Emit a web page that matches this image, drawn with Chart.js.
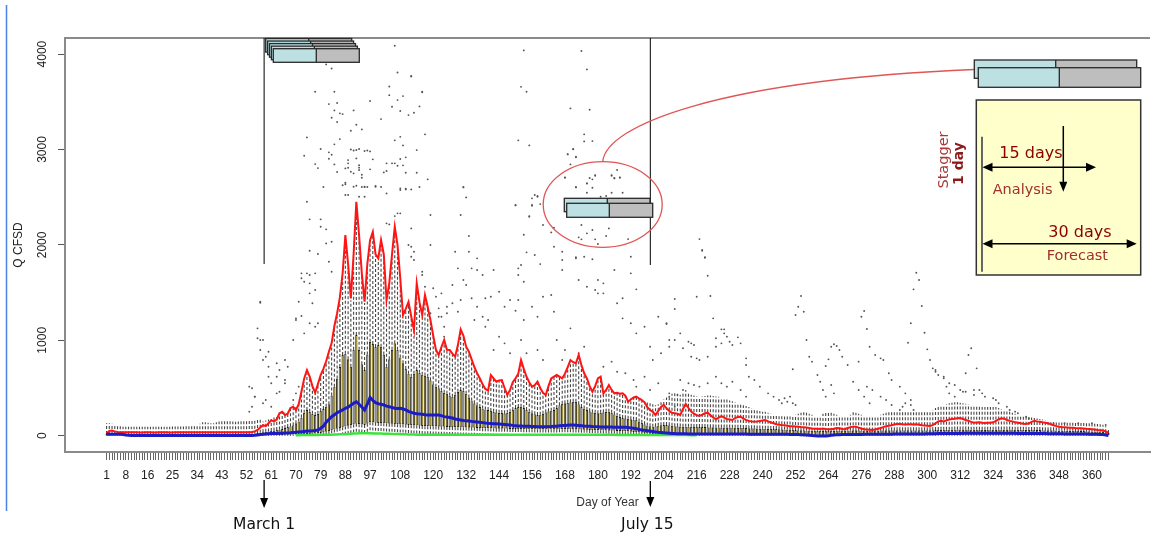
<!DOCTYPE html>
<html>
<head>
<meta charset="utf-8">
<title>Daily flow distribution by day of year</title>
<script src="https://cdn.jsdelivr.net/npm/chart.js@4.4.1/dist/chart.umd.min.js"></script>
<style>
  html, body { margin: 0; padding: 0; background: #fff; }
  #wrap { width: 1154px; height: 536px; position: relative; }
</style>
</head>
<body>
<div id="wrap"><canvas id="chart"></canvas></div>
<script>
// ---- data, one value per day of year (1..366), Q in CFSD ----
const days = Array.from({ length: 366 }, (_, i) => i + 1);

const xLabelDays = [1, 8, 16, 25, 34, 43, 52, 61, 70, 79, 88, 97, 108, 120, 132, 144, 156, 168, 180,
  192, 204, 216, 228, 240, 252, 264, 276, 288, 300, 312, 324, 336, 348, 360];
const yTicks = [0, 1000, 2000, 3000, 4000];

// red line (upper percentile)
const p90 = [
  20,50,55,45,38,36,35,35,35,35,
  35,35,34,34,35,35,35,34,34,35,
  35,35,35,34,34,35,35,35,35,35,
  35,35,35,35,36,36,36,35,35,35,
  36,36,36,36,36,36,36,36,36,36,
  36,36,36,38,45,60,85,110,100,130,
  160,150,170,235,250,217,230,290,304,269,
  330,461,600,688,620,520,451,540,636,700,
  780,880,971,1150,1284,1450,1700,2103,1800,1440,
  1900,2452,2100,1700,1404,1800,2050,2138,1900,1859,
  2051,1900,1422,1600,1900,2190,2000,1650,1265,1330,
  1404,1250,1108,1597,1400,1265,1475,1350,1212,1050,
  900,846,930,1003,900,898,860,828,950,1115,
  1050,933,880,800,720,654,600,540,490,472,
  636,600,566,580,584,500,427,480,560,601,
  650,793,700,618,560,514,530,566,500,450,
  427,520,601,620,636,620,601,650,720,793,
  770,759,846,740,654,600,520,461,520,600,
  618,444,480,531,480,444,450,440,444,420,
  356,380,400,409,390,374,350,300,269,250,
  217,260,300,322,287,260,240,235,230,217,
  280,332,290,252,230,215,206,220,235,241,
  215,190,172,190,206,190,175,170,165,185,
  195,199,180,165,155,150,147,150,155,160,
  165,150,140,130,120,115,112,110,105,100,
  98,96,94,90,88,85,80,76,73,72,
  70,75,70,67,68,72,80,78,70,68,
  80,90,94,94,85,75,68,64,62,60,
  65,72,80,90,100,105,110,118,122,123,
  120,118,119,120,118,119,115,110,108,105,
  102,110,130,150,157,150,160,170,175,178,
  182,185,175,165,155,145,136,138,140,136,
  134,135,136,140,155,170,182,178,165,155,
  150,140,136,130,125,123,130,145,157,150,
  145,140,136,130,120,110,100,94,90,88,
  86,84,82,80,79,78,75,72,70,68,
  65,60,58,55,45,31
];

// box top (75th percentile)
const q3 = [
  17,18,18,17,15,14,14,14,14,14,
  14,14,14,14,14,14,14,14,14,14,
  14,14,14,14,14,14,14,14,14,14,
  14,14,14,14,15,15,15,15,15,15,
  15,15,15,15,15,15,15,15,15,16,
  16,16,17,18,20,28,30,35,40,45,
  50,55,60,65,70,80,90,100,110,130,
  150,190,240,269,250,230,217,230,260,280,
  304,330,420,514,600,720,846,860,800,723,
  900,1055,900,750,688,850,985,960,930,950,
  933,850,723,800,900,968,900,820,759,700,
  650,618,650,688,660,640,630,618,580,540,
  514,497,470,450,440,420,409,430,460,479,
  470,440,400,370,340,320,300,285,275,269,
  260,250,245,240,238,235,240,250,270,290,
  300,304,290,270,250,235,225,217,220,230,
  245,255,262,269,290,320,335,340,345,350,
  355,356,330,300,285,269,255,245,240,235,
  240,245,250,252,240,225,210,195,185,182,
  178,172,168,165,150,135,120,108,100,94,
  100,105,110,112,112,110,105,100,98,96,
  95,95,94,93,92,92,91,90,90,89,
  88,88,87,87,86,86,85,85,84,84,
  83,82,81,80,79,78,77,76,75,74,
  73,72,71,70,69,68,67,66,65,64,
  60,59,58,57,56,55,54,53,52,52,
  51,50,50,50,51,52,53,54,54,54,
  55,55,56,56,56,55,55,54,54,54,
  55,55,56,56,57,57,57,58,58,58,
  58,58,58,58,58,58,58,58,58,58,
  58,58,59,60,61,62,62,63,63,64,
  64,65,65,64,64,63,63,62,62,62,
  62,62,63,63,64,64,65,65,64,64,
  63,63,62,62,61,61,60,60,60,59,
  59,58,58,57,56,56,55,54,54,53,
  52,52,51,50,50,49,48,47,46,45,
  44,43,42,40,36,28
];

// blue line (median)
const median = [
  15,16,16,15,14,14,13,8,4,3,
  3,3,3,3,3,3,3,3,3,3,
  3,3,3,3,3,3,3,3,3,3,
  3,3,3,3,3,3,3,3,3,3,
  3,3,3,3,3,3,3,3,3,3,
  3,3,3,3,4,8,12,15,18,20,
  22,23,24,25,26,27,28,30,33,36,
  40,42,45,48,50,52,55,60,78,100,
  140,170,199,220,240,255,270,287,300,320,
  340,356,330,300,269,330,400,370,346,335,
  330,322,310,304,295,287,285,287,280,270,
  255,245,235,230,228,225,220,217,217,217,
  217,217,210,200,195,190,185,175,170,165,
  160,157,154,150,147,144,140,137,133,130,
  128,126,124,122,120,118,115,112,108,105,
  102,102,100,99,98,97,96,95,94,94,
  94,95,96,98,100,103,106,108,110,112,
  112,110,108,105,102,100,98,96,95,94,
  92,92,91,90,90,89,89,88,88,88,
  85,82,78,72,66,60,56,52,48,44,
  40,36,33,30,28,26,24,22,21,20,
  20,20,19,19,19,18,18,18,18,18,
  18,18,18,18,18,18,17,17,17,17,
  17,17,17,17,16,16,16,16,16,16,
  16,15,15,15,15,14,14,14,14,13,
  13,12,12,11,10,8,5,2,0,-2,
  -2,-1,-2,0,4,8,10,11,12,12,
  12,13,13,13,13,13,14,14,14,14,
  14,15,15,15,16,16,16,17,17,17,
  18,18,18,18,19,19,19,19,19,20,
  20,21,21,22,22,22,23,23,23,24,
  24,24,25,25,25,25,25,25,25,25,
  25,25,25,25,25,25,25,25,25,25,
  25,25,24,24,24,24,23,23,23,23,
  22,22,22,21,21,21,20,20,20,19,
  19,19,18,18,18,17,17,17,16,16,
  15,14,13,12,8,2
];

// box bottom (25th percentile)
const q1 = [
  2,2,2,2,2,2,2,2,2,2,
  2,2,2,2,2,2,2,2,2,2,
  2,2,2,2,2,2,2,2,2,2,
  2,2,2,2,2,2,2,2,2,2,
  2,2,2,2,2,2,2,2,2,2,
  2,2,2,2,2,3,4,5,5,6,
  6,7,7,8,8,9,10,11,12,13,
  14,15,16,18,19,20,22,24,28,34,
  40,48,56,64,72,80,88,96,104,110,
  118,124,120,116,112,125,140,138,135,133,
  132,130,128,126,124,122,120,118,116,114,
  112,110,108,106,104,102,100,99,98,97,
  96,95,94,93,92,91,90,89,88,87,
  86,85,84,83,82,81,80,79,78,77,
  76,75,74,74,73,72,72,71,70,70,
  69,69,68,68,67,67,66,66,65,65,
  64,64,64,65,66,67,68,68,68,67,
  66,65,64,63,62,61,60,59,58,57,
  56,55,54,53,52,51,50,49,48,47,
  45,42,39,36,33,30,27,24,21,18,
  16,15,14,13,12,12,11,11,10,10,
  10,10,10,10,10,10,9,9,9,9,
  9,9,9,9,9,9,9,9,9,9,
  8,8,8,8,8,8,8,8,8,8,
  8,8,8,8,8,7,7,7,7,7,
  7,6,5,4,3,2,1,0,-2,-4,
  -4,-3,-3,-1,1,3,5,6,7,7,
  7,7,7,7,7,7,8,8,8,8,
  8,8,8,8,9,9,9,9,9,9,
  9,9,9,9,9,9,9,9,9,10,
  10,10,10,10,10,10,11,11,11,11,
  11,11,11,11,11,11,11,11,11,11,
  11,11,11,11,11,11,11,11,11,11,
  11,11,11,11,11,10,10,10,10,10,
  10,10,10,10,10,10,9,9,9,9,
  9,9,9,8,8,8,8,8,7,7,
  7,6,6,5,3,0
];

// upper whisker end
const whiskHi = [
  130,130,125,120,110,100,95,95,95,95,
  95,95,94,94,94,95,95,95,95,95,
  95,95,95,95,96,96,96,96,96,100,
  100,105,105,110,125,140,140,135,130,130,
  140,150,160,165,165,160,150,145,150,155,
  160,165,170,170,175,165,180,150,160,170,
  175,190,210,240,260,240,250,300,330,300,
  340,470,560,650,600,520,460,540,620,690,
  760,860,950,1120,1250,1400,1650,2050,1760,1420,
  1850,2400,2060,1680,1390,1760,2000,2100,1880,1830,
  2000,1870,1400,1580,1860,2140,1960,1620,1250,1310,
  1380,1230,1100,1560,1380,1250,1450,1330,1200,1040,
  890,840,920,990,890,890,850,820,940,1100,
  1040,920,870,790,710,650,600,540,490,470,
  630,600,566,580,580,500,430,480,560,600,
  650,790,700,618,560,514,530,566,500,450,
  427,520,600,620,636,620,601,650,720,790,
  770,759,846,740,654,600,520,461,520,600,
  618,444,480,531,480,444,450,440,444,420,
  370,390,400,410,400,390,380,360,350,330,
  320,330,360,380,400,420,440,445,440,430,
  460,480,450,430,420,410,405,410,415,420,
  420,415,410,409,400,390,380,370,360,350,
  340,330,320,310,300,290,280,270,260,250,
  250,240,230,220,215,210,205,200,200,200,
  210,220,230,240,250,240,230,220,210,200,
  210,230,260,250,240,230,220,210,200,200,
  210,220,250,240,230,220,210,200,200,200,
  200,210,220,230,240,245,250,250,250,250,
  255,260,260,255,250,250,250,250,250,250,
  250,270,290,300,310,320,330,340,345,350,
  350,345,340,335,330,325,320,315,310,300,
  300,300,300,300,300,290,280,270,260,250,
  240,230,220,210,200,200,195,190,185,180,
  175,170,165,160,155,150,150,145,145,140,
  140,140,140,138,136,134,132,130,130,128,
  125,122,120,115,100,60
];

// lower whisker end (minimum); shown as the green line from day 70 to 216
const lowW = [
  0,0,0,0,0,0,0,0,0,0,
  0,0,0,0,0,0,0,0,0,0,
  0,0,0,0,0,0,0,0,0,0,
  0,0,0,0,0,0,0,0,0,0,
  0,0,0,0,0,0,0,0,0,0,
  0,0,0,0,0,0,0,0,0,0,
  0,0,0,0,0,0,0,0,0,5,
  5,6,6,7,7,8,8,8,9,9,
  10,10,11,12,13,14,15,16,18,20,
  22,24,25,26,26,25,25,24,24,23,
  22,21,20,20,19,18,17,16,15,14,
  13,12,12,11,11,10,10,10,10,10,
  10,10,10,10,10,10,10,10,10,10,
  10,10,10,9,9,9,9,9,9,9,
  9,9,9,9,9,9,9,9,9,9,
  9,9,9,9,9,9,9,9,9,9,
  9,9,9,9,10,10,10,10,10,10,
  10,10,10,10,10,10,9,9,9,9,
  9,9,9,9,9,9,8,8,8,8,
  8,8,8,8,8,8,8,7,7,7,
  7,7,7,7,7,7,6,6,6,6,
  6,6,6,5,5,5,0,0,0,0,
  0,0,0,0,0,0,0,0,0,0,
  0,0,0,0,0,0,0,0,0,0,
  0,0,0,0,0,0,0,0,0,0,
  0,0,-3,-5,-8,-8,-8,-8,-8,-8,
  -8,-8,-8,-6,-3,0,0,0,0,0,
  0,0,0,0,0,0,0,0,0,0,
  0,0,0,0,0,0,0,0,0,0,
  0,0,0,0,0,0,0,0,0,0,
  0,0,0,0,0,0,0,0,0,0,
  0,0,0,0,0,0,0,0,0,0,
  0,0,0,0,0,0,0,0,0,0,
  0,0,0,0,0,0,0,0,0,0,
  0,0,0,0,0,0,0,0,0,0,
  0,0,0,0,0,0,0,0,0,0,
  0,0,0,0,0,0
];
const greenFrom = 70, greenTo = 216;

// outlying years: [day, Q]
const outliers = [
  [106,4087],[81,3892],[83,3850],[107,3808],[112,3766],[77,3605],[84,3605],[104,3660],[104,3570],[109,3560],
  [116,3599],[97,3508],[107,3518],[82,3476],[85,3487],[115,3452],[105,3448],[84,3410],[91,3410],[86,3379],
  [87,3371],[108,3403],[113,3385],[111,3361],[83,3333],[101,3319],[85,3288],[92,3259],[90,3196],[94,3211],
  [74,3127],[86,3109],[106,3096],[108,3133],[117,3159],[109,3043],[84,3054],[79,3005],[82,2970],[83,2945],
  [90,3000],[91,2990],[92,2995],[93,3005],[95,2985],[96,2990],[97,2980],[114,2994],[73,2935],[82,2903],
  [89,2889],[89,2855],[92,2907],[98,2897],[108,2900],[110,2918],[77,2847],[78,2805],[84,2844],[88,2802],
  [89,2809],[90,2767],[91,2750],[93,2835],[93,2810],[93,2785],[94,2735],[94,2704],[97,2792],[103,2855],
  [105,2855],[106,2855],[107,2830],[109,2834],[103,2774],[102,2760],[110,2756],[114,2756],[118,2687],[85,2764],
  [80,2607],[87,2625],[88,2652],[92,2620],[94,2607],[95,2607],[96,2607],[99,2617],[101,2607],[108,2575],
  [110,2589],[115,2607],[131,2607],
  [153,4039],[174,4032],[176,3840],[152,3657],[154,3605],[170,3431],[177,3417],[175,3159],[178,3088],[151,3096],
  [155,3043],[171,3005],[169,2949],[172,2918],[170,2844],[168,2708],[177,2701],[179,2725],[176,2645],[178,2599],
  [172,2607],[185,2725],[186,2701],[188,2708],[187,2785],
  [88,2636],[91,2610],[95,2610],[99,2610],[88,2523],[89,2523],[93,2505],[95,2505],[103,2540],[108,2593],
  [110,2582],[112,2582],[106,2302],[107,2331],[108,2331],[103,2226],[104,2215],[112,2173],[111,1999],[112,1981],
  [113,1928],[119,2313],[119,1999],[113,1841],[112,1876],[116,1719],[116,1684],[120,1545],[121,1457],[122,1335],
  [119,1283],[123,1247],[117,1562],[74,2452],[75,2268],[79,2190],[81,2163],[83,2033],[79,2268],[75,1939],
  [78,1904],[81,2016],[82,1824],[83,1719],[72,1650],[72,1702],[73,1614],[75,1492],[76,1388],[77,1527],
  [72,1254],[75,1178],[77,1142],[78,1178],[73,1073],[70,1212],[57,1404],[56,1125],[58,1003],[60,880],
  [63,759],[56,1021],[66,793],[67,723],[66,584],[64,461],[61,549],[63,444],[60,618],[69,374],
  [70,444],[71,514],[53,514],[55,409],[54,304],
  [131,2603],[132,2498],[130,2313],[150,2418],[156,2418],[157,2523],[158,2512],[155,2302],[133,2093],[128,1928],
  [133,1928],[136,1859],[129,1754],[134,1754],[136,1737],[138,1684],[131,1632],[132,1579],[127,1579],[142,1737],
  [144,1509],[141,1457],[139,1440],[136,1352],[134,1440],[146,1352],[148,1422],[151,1422],[151,1684],[153,1614],
  [150,1310],[153,1212],[156,1352],[158,1247],[160,1457],[163,1475],[164,1300],[152,1789],[151,1754],[167,1841],
  [167,1737],[172,1859],[175,1876],[173,1632],[176,1562],[179,1527],[180,1632],[182,1597],[180,1492],[182,1492],
  [186,1737],[189,1440],[187,1388],[194,1534],[192,1702],[189,1230],[192,1178],[194,1073],[197,1142],[202,1247],
  [205,1171],[208,1003],[199,933],[200,793],[203,864],[170,1125],[173,864],[175,933],[165,1003],[168,898],
  [167,793],[152,1003],[154,864],[158,898],[160,793],[144,1038],[146,968],[148,864],[142,898],[135,1212],
  [138,1247],[140,1212],[139,1142],[122,1247],[124,1142],[124,1038],[125,1283],[127,1388],[130,1422],[129,1300],
  [123,1492],[125,1352],[182,723],[185,776],[187,671],[190,654],[193,584],[197,618],[194,514],[199,479],
  [202,549],[206,409],[208,304],
  [175,3085],[169,2952],[171,3002],[172,2924],[168,2704],[172,2603],[176,2645],[179,2732],[178,2687],[185,2732],
  [186,2697],[188,2704],[176,2547],[181,2505],[183,2512],[185,2547],[189,2547],[156,2488],[158,2505],[159,2428],
  [150,2414],[156,2410],[155,2295],[160,2208],[164,2180],[163,2131],[174,2208],[176,2121],[178,2156],[179,2058],
  [183,2093],[184,2173],[173,2079],[174,2058],[180,2009],[191,2061],[153,2107],[154,1922],[157,1894],[159,1799],
  [217,2061],[218,1946],[219,1870],[164,1981],[167,1928],[172,1870],[178,1849],[192,1876],[112,3770],[116,3605],
  [218,1939],[219,1865],[220,1677],[221,1464],[216,1457],[208,1433],[208,1328],[205,1178],[210,1073],[222,1230],
  [225,1115],[226,1115],[226,1073],[227,1038],[231,1031],[232,968],[229,951],[228,985],[223,1021],[225,968],
  [223,933],[213,985],[214,968],[215,951],[211,916],[214,828],[216,811],[217,793],[220,828],[206,1003],
  [206,933],[210,584],[213,549],[215,531],[217,514],[220,549],[206,444],[209,427],[211,479],[223,618],
  [225,549],[227,514],[229,566],[232,479],[234,409],[234,741],[234,811],[235,618],[237,584],[239,514],
  [242,444],[244,409],[246,374],[249,356],[251,340],[252,322],[247,340],[248,392],[250,409],[251,696],
  [252,1265],[253,1352],[254,1464],[255,1300],[256,1003],[257,828],[258,776],[260,636],[261,566],[263,730],
  [264,800],[265,933],[266,958],[267,940],[268,898],[269,828],[271,741],[273,566],[275,479],[277,409],
  [279,340],[265,531],[266,444],[263,409],[262,479],[275,776],[276,1247],[277,1307],[278,1118],[279,933],
  [281,846],[283,811],[284,793],[286,654],[287,584],[290,514],[292,444],[294,374],[278,514],[280,479],
  [283,409],[285,374],[287,322],[290,269],[293,975],[294,1178],[295,1534],[296,1708],[297,1632],[298,1359],
  [299,1079],[300,905],[301,793],[303,688],[291,304],[292,340],[294,322],[295,269],[302,706],[303,671],
  [304,636],[306,601],[308,549],[310,531],[312,479],[314,461],[317,427],[306,618],[307,514],[308,444],
  [310,409],[314,654],[315,846],[316,916],[318,706],[319,479],[321,409],[325,374],[329,304],[332,252],
  [336,199],[313,461],[317,479],[320,444],[324,392],[326,340],[330,269],[333,235],[337,182],[341,147],
  [346,130],[350,130],[355,130],[360,130],[365,112],
  [57,1394],[57,1003],[57,898],[58,793],[59,828],[60,723],[54,497],[55,409],[58,340],[59,374],
  [61,304],[53,252],[63,618],[64,688],[66,549],[69,1003],[70,1230],[71,1404],[74,1702],[75,1684],
  [77,1702],[75,1597]
];

// where the two season markers sit on the day axis
const marchLineDay = 58.4, julyLineDay = 199.1;

const SANS = '"Liberation Sans", Arial, sans-serif';
const VERD = '"DejaVu Sans", Verdana, sans-serif';
Chart.defaults.font.family = SANS;

const pts = arr => days.map((d, i) => ({ x: d, y: arr[i] }));

// dashed whiskers, drawn under the boxes like R's boxplot
const whiskers = {
  id: 'whiskers',
  beforeDatasetsDraw(chart) {
    const { ctx, chartArea: ca, scales: { x, y } } = chart;
    ctx.save();
    ctx.beginPath();
    ctx.rect(ca.left, ca.top, ca.width, ca.height);
    ctx.clip();
    ctx.strokeStyle = 'rgba(50,50,50,0.9)';
    ctx.lineWidth = 1.1;
    ctx.setLineDash([3, 2]);
    days.forEach((d, i) => {
      const px = x.getPixelForValue(d);
      ctx.beginPath();
      ctx.moveTo(px, y.getPixelForValue(q3[i]));
      ctx.lineTo(px, y.getPixelForValue(whiskHi[i]));
      ctx.moveTo(px, y.getPixelForValue(q1[i]));
      ctx.lineTo(px, y.getPixelForValue(lowW[i]));
      ctx.stroke();
    });
    ctx.restore();
  }
};

function twinBox(ctx, x, y, w, h, split) {
  ctx.fillStyle = '#bde0e3';
  ctx.fillRect(x, y, split - x, h);
  ctx.fillStyle = '#bebebe';
  ctx.fillRect(split, y, x + w - split, h);
  ctx.strokeStyle = '#2a2a2a';
  ctx.lineWidth = 1.3;
  ctx.strokeRect(x, y, w, h);
  ctx.beginPath();
  ctx.moveTo(split, y);
  ctx.lineTo(split, y + h);
  ctx.stroke();
}

function head(ctx, x, y, dx, dy, len, half) {
  ctx.beginPath();
  ctx.moveTo(x, y);
  ctx.lineTo(x - dx * len - dy * half, y - dy * len + dx * half);
  ctx.lineTo(x - dx * len + dy * half, y - dy * len - dx * half);
  ctx.closePath();
  ctx.fill();
}

function seg(ctx, x1, y1, x2, y2) {
  ctx.beginPath();
  ctx.moveTo(x1, y1);
  ctx.lineTo(x2, y2);
  ctx.stroke();
}

function label(ctx, text, x, y, font, color, align, rot) {
  ctx.save();
  ctx.translate(x, y);
  if (rot) ctx.rotate(rot);
  ctx.font = font;
  ctx.fillStyle = color;
  ctx.textAlign = align || 'center';
  ctx.textBaseline = 'middle';
  ctx.fillText(text, 0, 0);
  ctx.restore();
}

// the sketch of the analysis / forecast windows
const notes = {
  id: 'notes',
  afterDraw(chart) {
    const { ctx, chartArea: ca, scales: { x } } = chart;
    ctx.save();

    // top edge of the plot frame
    ctx.strokeStyle = '#8a8a8a';
    ctx.lineWidth = 2;
    seg(ctx, ca.left - 1, ca.top, ca.right, ca.top);

    // blue rule at the far left
    ctx.strokeStyle = '#4d7fe8';
    ctx.lineWidth = 1.5;
    seg(ctx, 6.5, 5, 6.5, 511);

    // season markers
    const m1 = x.getPixelForValue(marchLineDay);
    const j15 = x.getPixelForValue(julyLineDay);
    ctx.strokeStyle = '#000';
    ctx.fillStyle = '#000';
    ctx.lineWidth = 1;
    seg(ctx, m1, ca.top, m1, 264);
    seg(ctx, j15, ca.top, j15, 265);
    ctx.lineWidth = 1.3;
    seg(ctx, m1, 480, m1, 500);
    head(ctx, m1, 508, 0, 1, 10, 4);
    seg(ctx, j15, 481, j15, 499);
    head(ctx, j15, 507, 0, 1, 10, 4);
    label(ctx, 'March 1', m1, 525, '15.5px ' + VERD, '#111');
    label(ctx, 'July 15', j15 - 3, 525, '15.5px ' + VERD, '#111');

    // stacked windows at the start of the season
    for (let i = 0; i < 5; i++) {
      const bx = 265.7 + 1.9 * i, by = 38.5 + 2.55 * i;
      twinBox(ctx, bx, by, 86, 13.6, bx + 43);
    }

    // callout
    ctx.strokeStyle = '#e05555';
    ctx.lineWidth = 1.3;
    ctx.beginPath();
    ctx.ellipse(602.7, 204.5, 59.5, 42.8, 0, 0, Math.PI * 2);
    ctx.stroke();
    ctx.beginPath();
    ctx.moveTo(602.7, 161.7);
    ctx.bezierCurveTo(606, 125, 720, 80, 974.3, 69.5);
    ctx.stroke();

    twinBox(ctx, 564.3, 198.3, 85.7, 13.4, 607.3);
    twinBox(ctx, 566.7, 203.3, 86, 14, 609.3);
    twinBox(ctx, 974.3, 60, 162.4, 18.3, 1055.7);
    twinBox(ctx, 978.3, 67.7, 162.4, 19.6, 1059.3);

    // explanation panel
    ctx.fillStyle = '#ffffcc';
    ctx.fillRect(976.3, 100, 164.4, 175);
    ctx.strokeStyle = '#333';
    ctx.lineWidth = 1.5;
    ctx.strokeRect(976.3, 100, 164.4, 175);
    ctx.strokeStyle = '#666';
    ctx.lineWidth = 2;
    seg(ctx, 982, 136.7, 982, 271.7);

    ctx.strokeStyle = '#000';
    ctx.fillStyle = '#000';
    ctx.lineWidth = 1.5;
    seg(ctx, 990, 167.3, 1088, 167.3);
    head(ctx, 982.5, 167.3, -1, 0, 10, 4.5);
    head(ctx, 1096, 167.3, 1, 0, 10, 4.5);
    seg(ctx, 1063.3, 126, 1063.3, 183);
    head(ctx, 1063.3, 191.7, 0, 1, 10, 4);
    seg(ctx, 990, 243.7, 1128, 243.7);
    head(ctx, 982.5, 243.7, -1, 0, 10, 4.5);
    head(ctx, 1136.7, 243.7, 1, 0, 10, 4.5);

    label(ctx, '15 days', 999.3, 153.5, '16px ' + VERD, '#8b0000', 'left');
    label(ctx, 'Analysis', 992.7, 190.3, '14.5px ' + VERD, '#a03030', 'left');
    label(ctx, '30 days', 1048.3, 233.3, '16px ' + VERD, '#8b0000', 'left');
    label(ctx, 'Forecast', 1046.7, 256, '14.5px ' + VERD, '#a03030', 'left');
    label(ctx, 'Stagger', 944, 160, '14.5px ' + VERD, '#a83a3a', 'center', -Math.PI / 2);
    label(ctx, '1 day', 959.3, 163.5, 'bold 14px ' + VERD, '#8b1a1a', 'center', -Math.PI / 2);

    ctx.restore();
  }
};

new Chart(document.getElementById('chart'), {
  type: 'bar',
  data: {
    datasets: [
      {
        type: 'line', label: 'upper', data: pts(p90),
        borderColor: '#ff1414', borderWidth: 2, pointRadius: 0, order: 1
      },
      {
        type: 'line', label: 'median', data: pts(median),
        borderColor: '#1c1cc4', borderWidth: 3, pointRadius: 0, order: 0
      },
      {
        type: 'line', label: 'minimum',
        data: days.filter(d => d >= greenFrom && d <= greenTo).map(d => ({ x: d, y: lowW[d - 1] })),
        borderColor: '#3ce43c', borderWidth: 2.5, pointRadius: 0, order: 2
      },
      {
        type: 'scatter', label: 'outliers',
        data: outliers.map(([d, v]) => ({ x: d, y: v })),
        pointRadius: 0.95, pointBackgroundColor: '#555', pointBorderWidth: 0, order: 3
      },
      {
        type: 'bar', label: 'IQR',
        data: days.map((d, i) => ({ x: d, y: [q1[i], q3[i]] })),
        backgroundColor: '#e2bd00', borderColor: 'rgba(10,10,0,0.95)', borderWidth: 0.9,
        borderSkipped: false, barPercentage: 0.8, categoryPercentage: 1, order: 4
      }
    ]
  },
  options: {
    responsive: true,
    maintainAspectRatio: false,
    animation: false,
    events: [],
    layout: { padding: { top: 38, left: 0, right: 0, bottom: 0 } },
    plugins: { legend: { display: false }, tooltip: { enabled: false } },
    scales: {
      x: {
        type: 'linear', min: -14.14, max: 381.14, offset: false,
        afterBuildTicks: s => { s.ticks = days.map(d => ({ value: d })); },
        afterFit: s => { s.height = 84; },
        ticks: {
          autoSkip: false, maxRotation: 0, minRotation: 0, padding: 8,
          color: '#222', font: { size: 12 },
          callback: v => (xLabelDays.includes(v) ? String(v) : '')
        },
        grid: { drawOnChartArea: false, offset: false, tickLength: 8, color: '#666', lineWidth: 1 },
        border: { color: '#8a8a8a', width: 2 },
        title: { display: true, text: 'Day of Year', color: '#333', font: { size: 12 }, padding: { top: 0, bottom: 26 } }
      },
      y: {
        min: -171, max: 4169,
        afterBuildTicks: s => { s.ticks = yTicks.map(v => ({ value: v })); },
        afterFit: s => { s.width = 65; },
        ticks: {
          minRotation: 90, maxRotation: 90, crossAlign: 'center', padding: 2,
          color: '#222', font: { size: 12 },
          callback: v => String(v)
        },
        grid: { drawOnChartArea: false, tickLength: 7, color: '#555' },
        border: { color: '#8a8a8a', width: 2 },
        title: { display: true, text: 'Q CFSD', color: '#222', font: { size: 12 }, padding: { top: 11, bottom: 0 } }
      }
    }
  },
  plugins: [whiskers, notes]
});
</script>
</body>
</html>
